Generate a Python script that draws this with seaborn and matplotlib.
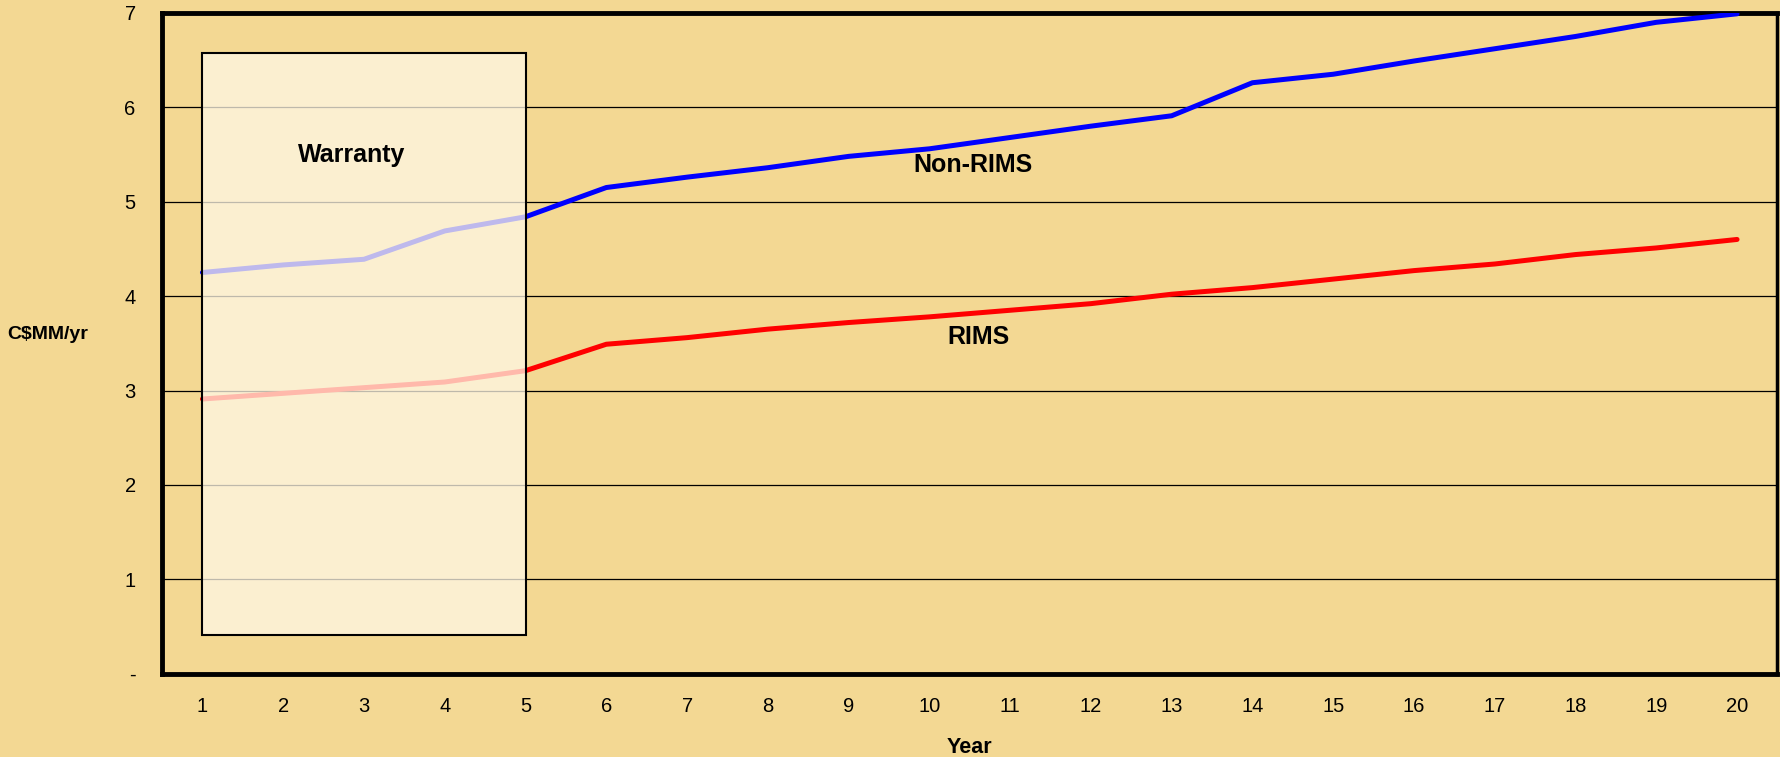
import numpy as np
import pandas as pd
import matplotlib
matplotlib.use("Agg")
import matplotlib.pyplot as plt
import seaborn as sns
from matplotlib.patches import Rectangle

# values (C$MM per year)
years = list(range(1, 21))
non_rims = [4.25, 4.33, 4.39, 4.69, 4.84, 5.15, 5.26, 5.36, 5.48, 5.56,
            5.68, 5.80, 5.91, 6.26, 6.35, 6.49, 6.62, 6.75, 6.90, 6.99]
rims = [2.91, 2.97, 3.03, 3.09, 3.21, 3.49, 3.56, 3.65, 3.72, 3.78,
        3.85, 3.92, 4.02, 4.09, 4.18, 4.27, 4.34, 4.44, 4.51, 4.60]
series_names = ['Non-RIMS', 'RIMS']
series_colors = ['#0000FF', '#FF0000']
warranty_years = (1, 5)
warranty_span = (0.41, 6.58)
y_ticks = [0, 1, 2, 3, 4, 5, 6, 7]
y_ticklabels = ['-', '1', '2', '3', '4', '5', '6', '7']

df = pd.DataFrame({'Year': years * 2,
                   'value': non_rims + rims,
                   'series': [series_names[0]] * 20 + [series_names[1]] * 20})

bg = '#F3D893'
sns.set_style('white')
plt.rcParams['font.family'] = ['Liberation Sans', 'DejaVu Sans']
plt.rcParams['text.color'] = 'black'
plt.rcParams['axes.labelcolor'] = 'black'
plt.rcParams['xtick.color'] = 'black'
plt.rcParams['ytick.color'] = 'black'

fig = plt.figure(figsize=(17.81, 7.57), dpi=100, facecolor=bg)
ax = fig.add_axes([0.091, 0.110, 0.907, 0.873])
ax.set_facecolor(bg)

sns.lineplot(data=df, x='Year', y='value', hue='series', palette=series_colors,
             linewidth=3.6, legend=False, ax=ax, zorder=3)

# horizontal gridlines
for v in y_ticks[1:]:
    ax.axhline(v, color='black', linewidth=0.9, zorder=1)

# warranty box drawn over the lines, semi-opaque
ax.add_patch(Rectangle((warranty_years[0], warranty_span[0]),
                       warranty_years[1] - warranty_years[0],
                       warranty_span[1] - warranty_span[0],
                       facecolor='#FFF8E6', alpha=0.75, edgecolor='none', zorder=4))
ax.add_patch(Rectangle((warranty_years[0], warranty_span[0]),
                       warranty_years[1] - warranty_years[0],
                       warranty_span[1] - warranty_span[0],
                       facecolor='none', edgecolor='black', linewidth=1.5, zorder=5))

ax.text(2.85, 5.49, 'Warranty', fontsize=18, fontweight='bold', ha='center', va='center', zorder=6)
ax.text(10.54, 5.39, 'Non-RIMS', fontsize=18, fontweight='bold', ha='center', va='center', zorder=6)
ax.text(10.61, 3.57, 'RIMS', fontsize=18, fontweight='bold', ha='center', va='center', zorder=6)

ax.set_xlim(0.5, 20.5)
ax.set_ylim(0, 7)
ax.set_xticks(years)
ax.set_xticklabels([str(y) for y in years], fontsize=14.5)
ax.set_xticks(np.arange(0.5, 21, 1), minor=True)
ax.tick_params(axis='x', which='major', length=0, pad=17)
ax.tick_params(axis='x', which='minor', length=5, width=1, color='#555555', direction='out')
ax.set_yticks(y_ticks)
ax.set_yticklabels(y_ticklabels, fontsize=14.5)
ax.tick_params(axis='y', length=5, width=1, color='#555555', pad=14)

for side in ['top', 'left', 'bottom']:
    ax.spines[side].set_linewidth(3.5)
    ax.spines[side].set_color('black')
ax.spines['right'].set_linewidth(2.5)
ax.spines['right'].set_color('black')

ax.set_xlabel('Year', fontsize=15.5, fontweight='bold', labelpad=15)
ax.set_ylabel('C$MM/yr', fontsize=14, fontweight='bold', rotation=0, labelpad=0)
ax.yaxis.set_label_coords(-0.071, 0.5)

fig.savefig('out.png', dpi=100, facecolor=bg)
